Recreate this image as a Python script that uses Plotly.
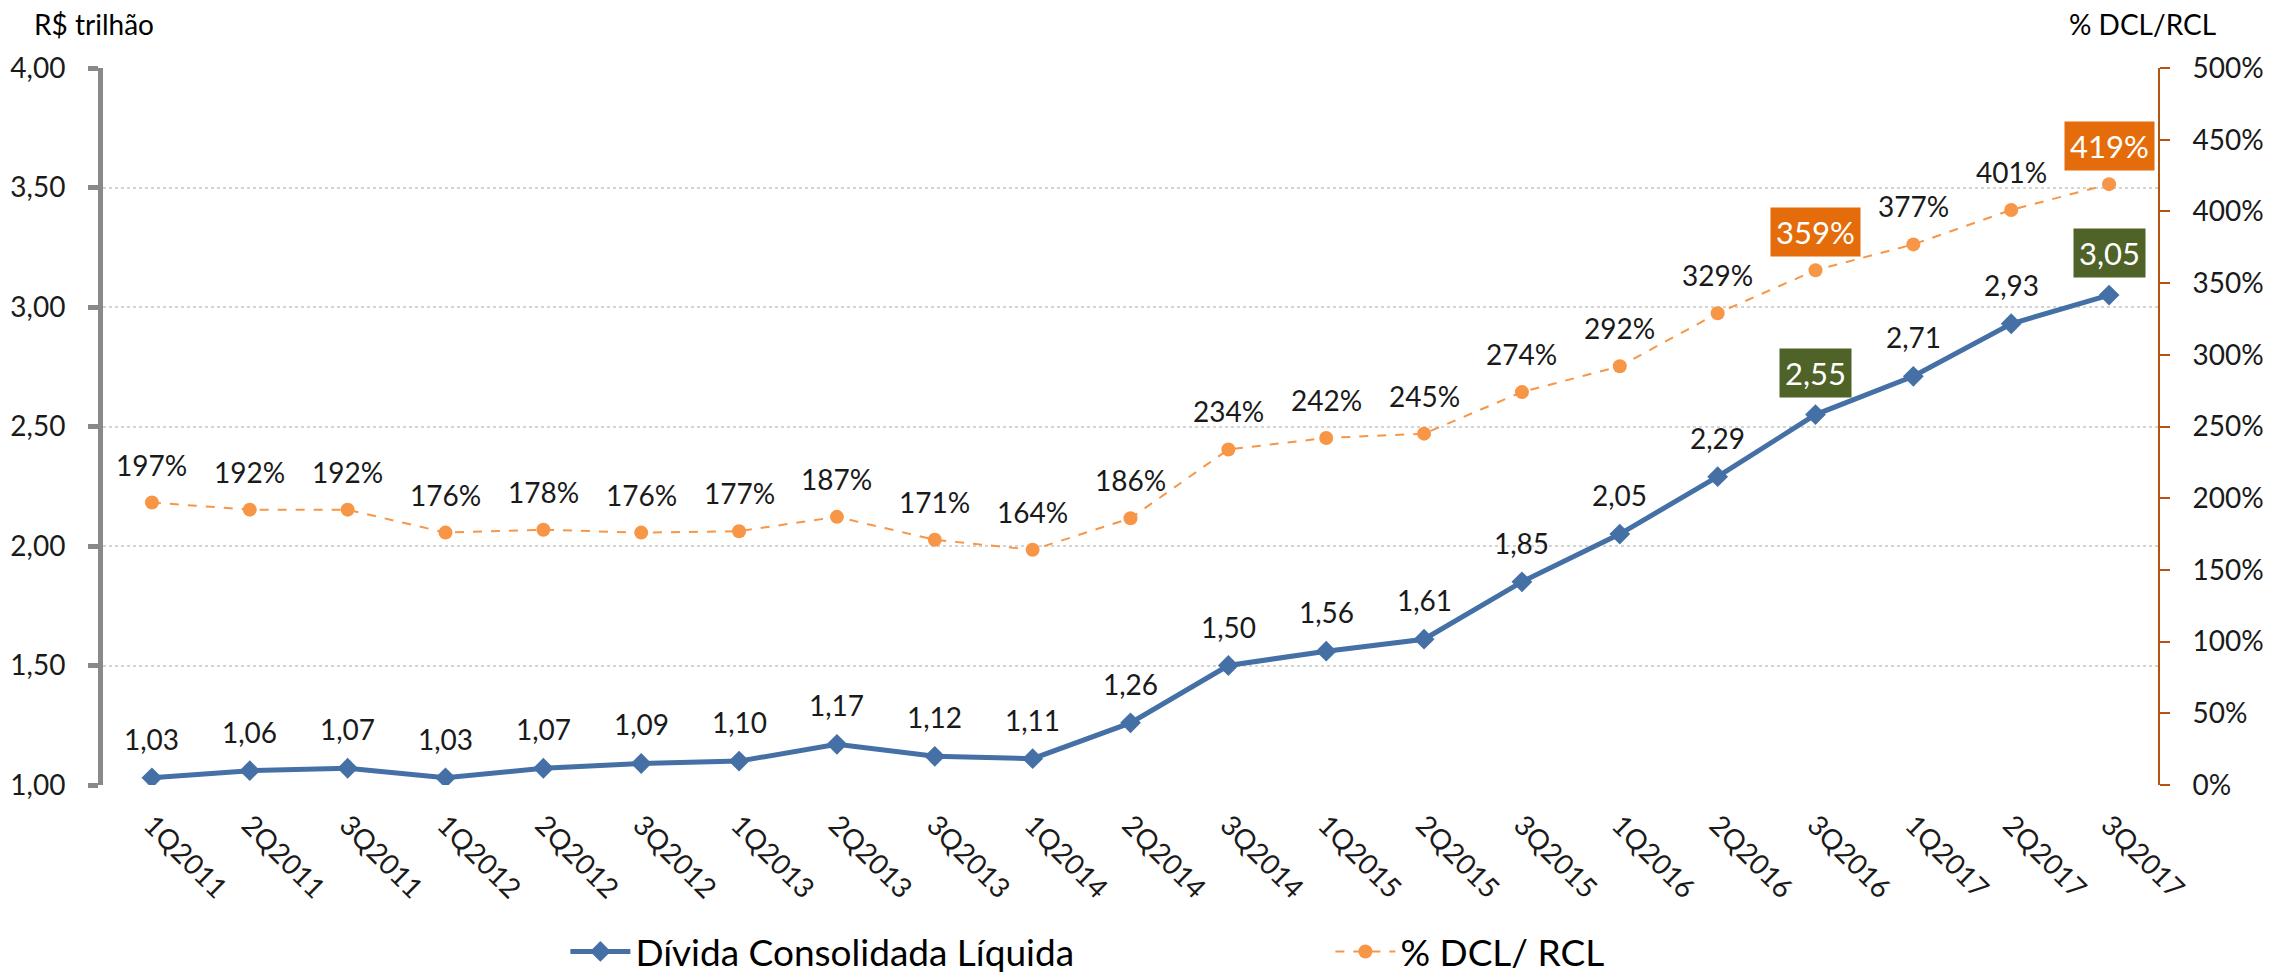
import plotly.graph_objects as go

categories = ["1Q2011", "2Q2011", "3Q2011", "1Q2012", "2Q2012", "3Q2012", "1Q2013",
              "2Q2013", "3Q2013", "1Q2014", "2Q2014", "3Q2014", "1Q2015", "2Q2015",
              "3Q2015", "1Q2016", "2Q2016", "3Q2016", "1Q2017", "2Q2017", "3Q2017"]
divida = [1.03, 1.06, 1.07, 1.03, 1.07, 1.09, 1.10, 1.17, 1.12, 1.11, 1.26, 1.50,
          1.56, 1.61, 1.85, 2.05, 2.29, 2.55, 2.71, 2.93, 3.05]
pct_dcl_rcl = [197, 192, 192, 176, 178, 176, 177, 187, 171, 164, 186, 234, 242, 245,
               274, 292, 329, 359, 377, 401, 419]
highlight_divida = ["3Q2016", "3Q2017"]
highlight_pct = ["3Q2016", "3Q2017"]

FONT = "Lato"
BLUE = "#4470A6"
ORANGE = "#F79646"
GREEN_BOX = "#4F6228"
ORANGE_BOX = "#E46C0A"
TXT = "#1a1a1a"
LBL = 28

fig = go.Figure()
fig.add_trace(go.Scatter(
    x=categories, y=divida, name="Dívida Consolidada Líquida",
    mode="lines+markers", line=dict(color=BLUE, width=5),
    marker=dict(symbol="diamond", size=16, color=BLUE), yaxis="y"))
fig.add_trace(go.Scatter(
    x=categories, y=pct_dcl_rcl, name="% DCL/ RCL",
    mode="lines+markers", line=dict(color=ORANGE, width=2, dash="dash"),
    marker=dict(symbol="circle", size=14, color=ORANGE), yaxis="y2"))

for c, v in zip(categories, divida):
    txt = f"{v:.2f}".replace(".", ",")
    hl = c in highlight_divida
    fig.add_annotation(
        x=c, y=v, xref="x", yref="y", text=txt, showarrow=False,
        yshift=42 if hl else 39,
        font=dict(family=FONT, size=31 if hl else LBL, color="white" if hl else TXT),
        bgcolor=GREEN_BOX if hl else "rgba(0,0,0,0)", borderpad=5 if hl else 0)
for c, v in zip(categories, pct_dcl_rcl):
    txt = f"{v}%"
    hl = c in highlight_pct
    fig.add_annotation(
        x=c, y=v, xref="x", yref="y2", text=txt, showarrow=False,
        yshift=38,
        font=dict(family=FONT, size=31 if hl else LBL, color="white" if hl else TXT),
        bgcolor=ORANGE_BOX if hl else "rgba(0,0,0,0)", borderpad=5 if hl else 0)

fig.add_annotation(x=-0.0345, y=1.062, xref="paper", yref="paper", xanchor="left",
                   yanchor="middle", text="R$ trilhão", showarrow=False,
                   font=dict(family=FONT, size=28, color="#000"))
fig.add_annotation(x=1.029, y=1.062, xref="paper", yref="paper", xanchor="right",
                   yanchor="middle", text="% DCL/RCL", showarrow=False,
                   font=dict(family=FONT, size=28, color="#000"))

# page body has an 8px default margin: figure is sized/offset to compensate
fig.update_layout(
    width=2277, height=969,
    margin=dict(l=95, r=127, t=60, b=192, autoexpand=False),
    paper_bgcolor="white", plot_bgcolor="white",
    separators=",.",
    font=dict(family=FONT, size=LBL, color=TXT),
    showlegend=True,
    legend=dict(orientation="h", x=0.225, xanchor="left", y=-0.276, yanchor="bottom",
                font=dict(family=FONT, size=37, color="#000"),
                entrywidth=690, itemwidth=60),
    xaxis=dict(type="category", range=[-0.5, 20.5], showline=False, ticks="",
               tickangle=45, showgrid=False, zeroline=False, ticklabelstandoff=17,
               automargin=False,
               tickfont=dict(family=FONT, size=LBL, color=TXT)),
    yaxis=dict(range=[1, 4], dtick=0.5, tickformat=".2f", showline=True,
               linecolor="#898989", linewidth=5, ticks="outside", ticklen=10,
               tickwidth=5, tickcolor="#898989", showgrid=True, gridcolor="#D4D4D4",
               griddash="dot", gridwidth=1.5, zeroline=False, automargin=False,
               ticklabelstandoff=17, tickfont=dict(family=FONT, size=LBL, color=TXT)),
    yaxis2=dict(range=[0, 500], dtick=50, ticksuffix="%", overlaying="y", side="right",
                showline=True, linecolor="#B35510", linewidth=2, ticks="outside",
                ticklen=10, tickwidth=2, tickcolor="#B35510", showgrid=False,
                zeroline=False, ticklabelstandoff=17, automargin=False,
                tickfont=dict(family=FONT, size=LBL, color=TXT)),
)

fig.write_html("out.html")
